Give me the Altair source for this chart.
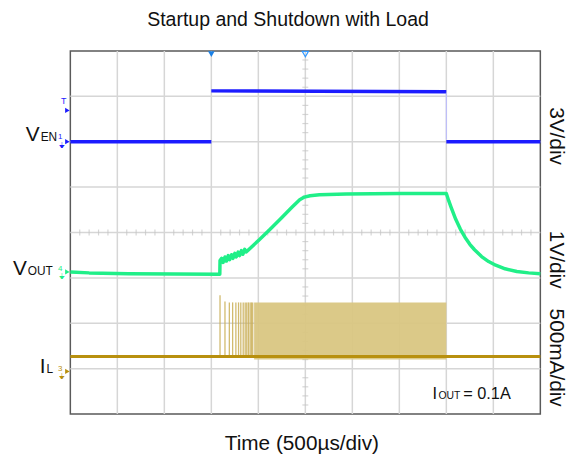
import altair as alt
import pandas as pd

# ---------------- data (screen divisions: x 0..10, y 0..8) ----------------
grid_x = [1, 2, 3, 4, 5, 6, 7, 8, 9]
grid_y = [1, 2, 3, 4, 5, 6, 7]

ven_x = [0.0, 3.0, 3.0, 8.0, 8.0, 8.0, 10.0]
ven_y = [6.0, 6.0, 7.12, 7.10, 6.6, 6.0, 6.0]
ven_seg = [0, 0, 1, 1, 1, 2, 2]

vout_x = [0.0, 0.4, 1.24, 3.18, 3.185, 3.22, 3.25, 3.29, 3.32, 3.36, 3.39, 3.43, 3.46,
          3.50, 3.53, 3.57, 3.60, 3.64, 3.67, 3.71, 3.74, 3.77, 4.02, 4.24, 4.48,
          4.72, 4.88, 4.98, 5.10, 5.30, 5.87, 7.0, 8.0, 8.05, 8.10, 8.20, 8.30,
          8.40, 8.50, 8.60, 8.75, 8.90, 9.05, 9.25, 9.50, 9.75, 10.0]
vout_y = [3.13, 3.11, 3.09, 3.08, 3.38, 3.43, 3.34, 3.46, 3.37, 3.49, 3.40, 3.51, 3.43,
          3.54, 3.46, 3.57, 3.49, 3.60, 3.52, 3.63, 3.57, 3.60, 3.84, 4.06, 4.31,
          4.56, 4.72, 4.78, 4.81, 4.83, 4.85, 4.86, 4.86, 4.70, 4.56, 4.29, 4.07,
          3.89, 3.74, 3.62, 3.47, 3.36, 3.28, 3.20, 3.14, 3.11, 3.09]

il_base = 1.27
il_x = [0.0, 10.0]
spike_x = [3.185, 3.29, 3.383, 3.453, 3.522, 3.579, 3.627, 3.678, 3.72, 3.754,
           3.789, 3.825, 3.853, 3.88]
spike_top = [2.62, 2.48, 2.46, 2.46, 2.46, 2.46, 2.46, 2.46, 2.46, 2.46,
             2.46, 2.46, 2.46, 2.46]
band = {"x": [3.91], "x2": [8.0], "y": [1.2], "y2": [2.46]}

W, H = 475, 367
X = alt.Scale(domain=[0, 10], nice=False, zero=False)
Y = alt.Scale(domain=[0, 8], nice=False, zero=False)

def xe(f="x"):
    return alt.X(f"{f}:Q", scale=X, axis=None)

def ye(f="y"):
    return alt.Y(f"{f}:Q", scale=Y, axis=None)

GRID = "#d6d6d6"
BLUE = "#1c1cff"
GREEN = "#20ef88"
GOLD = "#b8900e"
TAN = "#d9c682"

gx = alt.Chart(pd.DataFrame({"x": grid_x})).mark_rule(color=GRID, strokeWidth=1.5).encode(x=xe())
gy = alt.Chart(pd.DataFrame({"y": grid_y})).mark_rule(color=GRID, strokeWidth=1.5).encode(y=ye())

minor = [i / 5 for i in range(1, 50) if i % 5]
minor_y = [i / 5 for i in range(1, 40) if i % 5]
tx = alt.Chart(pd.DataFrame({"x": minor, "y": [4] * len(minor)})).mark_tick(
    orient="vertical", color="#c4c4c4", size=6, thickness=1.2).encode(x=xe(), y=ye())
ty = alt.Chart(pd.DataFrame({"x": [5] * len(minor_y), "y": minor_y})).mark_tick(
    orient="horizontal", color="#c4c4c4", size=6, thickness=1.2).encode(x=xe(), y=ye())

bandc = alt.Chart(pd.DataFrame(band)).mark_rect(color=TAN, opacity=0.95).encode(
    x=xe(), x2="x2:Q", y=ye(), y2="y2:Q")
spikes = alt.Chart(pd.DataFrame({"x": spike_x, "y": [il_base] * len(spike_x), "y2": spike_top})).mark_rule(
    color="#c9ae55", strokeWidth=1.3, opacity=0.85).encode(x=xe(), y=ye(), y2="y2:Q")
ilc = alt.Chart(pd.DataFrame({"x": il_x, "y": [il_base, il_base]})).mark_line(
    color=GOLD, strokeWidth=3).encode(x=xe(), y=ye())

venc = alt.Chart(pd.DataFrame({"x": ven_x, "y": ven_y, "s": ven_seg})).transform_filter(
    "datum.s != 1 || datum.y > 7").mark_line(color=BLUE, strokeWidth=3.5).encode(
    x=xe(), y=ye(), detail="s:N")
ven_fall = alt.Chart(pd.DataFrame({"x": [8.0], "y": [6.05], "y2": [7.08]})).mark_rule(
    color="#b8b8ff", strokeWidth=1).encode(x=xe(), y=ye(), y2="y2:Q")

voutc = alt.Chart(pd.DataFrame({"x": vout_x, "y": vout_y})).mark_line(
    color=GREEN, strokeWidth=3.5, strokeJoin="round").encode(x=xe(), y=ye())

# markers
top_tri = alt.Chart(pd.DataFrame({"x": [3], "y": [7.93]})).mark_point(
    shape="triangle-down", filled=True, color="#1a80e6", size=45, opacity=1).encode(x=xe(), y=ye())
top_tri2 = alt.Chart(pd.DataFrame({"x": [5], "y": [7.93]})).mark_point(
    shape="triangle-down", filled=False, color="#3399ff", size=40, strokeWidth=1.2, opacity=1).encode(x=xe(), y=ye())

ch_y = [6.0, 3.13, 0.94, 6.69]
ch_col = [BLUE, GREEN, GOLD, BLUE]
arrows = alt.Chart(pd.DataFrame({"y": ch_y, "c": ch_col})).mark_point(
    shape="triangle-right", filled=True, size=28, opacity=1).encode(
    x=alt.value(-3), y=ye(), color=alt.Color("c:N", scale=None))

def txt(s, x, y, size, color="#111", align="left", baseline="alphabetic", angle=0, font="Liberation Sans"):
    return alt.Chart(pd.DataFrame({"t": [s]})).mark_text(
        align=align, baseline=baseline, fontSize=size, color=color, angle=angle, font=font).encode(
        text="t:N", x=alt.value(x), y=alt.value(y))

texts = [
    txt("Startup and Shutdown with Load", 220, -25, 19.7, align="center"),
    txt("Time (500µs/div)", 234, 403, 21, align="center"),
    txt("3V/div", 491, 86, 21, align="center", baseline="middle", angle=90),
    txt("1V/div", 491, 211, 21, align="center", baseline="middle", angle=90),
    txt("500mA/div", 491, 310, 21, align="center", baseline="middle", angle=90),
    txt("V", -31, 91.3, 21, align="right"),
    txt("EN", -30, 91.3, 12),
    txt("V", -44, 226.3, 21, align="right"),
    txt("OUT", -43, 226.3, 12),
    txt("I", -25, 325.5, 21, align="right"),
    txt("L", -24, 325.5, 12),
    txt("I", 366, 352, 16.5),
    txt("OUT", 372, 352, 10.5),
    txt("= 0.1A", 397, 352, 16.5),
    txt("1", -8, 89.5, 8, color=BLUE, align="right"),
    txt("4", -8, 222, 8, color=GREEN, align="right"),
    txt("3", -8, 323.5, 8, color=GOLD, align="right"),
    txt("T", -4, 54, 9, color=BLUE, align="right"),
    txt("⏚", -8, 98, 8, color=BLUE, align="center", font="DejaVu Sans"),
    txt("⏚", -8, 230, 8, color=GREEN, align="center", font="DejaVu Sans"),
    txt("⏚", -8, 331.5, 8, color=GOLD, align="center", font="DejaVu Sans"),
]

chart = alt.layer(gx, gy, tx, ty, bandc, spikes, ilc, venc, ven_fall, voutc,
                  top_tri, top_tri2, arrows, *texts).properties(
    width=W, height=H, autosize="none",
    padding={"left": 63, "top": 41, "right": 32, "bottom": 40},
).configure_view(stroke="#5a5a5a", strokeWidth=1.5)

chart.save("out.html", embed_options={"renderer": "svg", "actions": False})
